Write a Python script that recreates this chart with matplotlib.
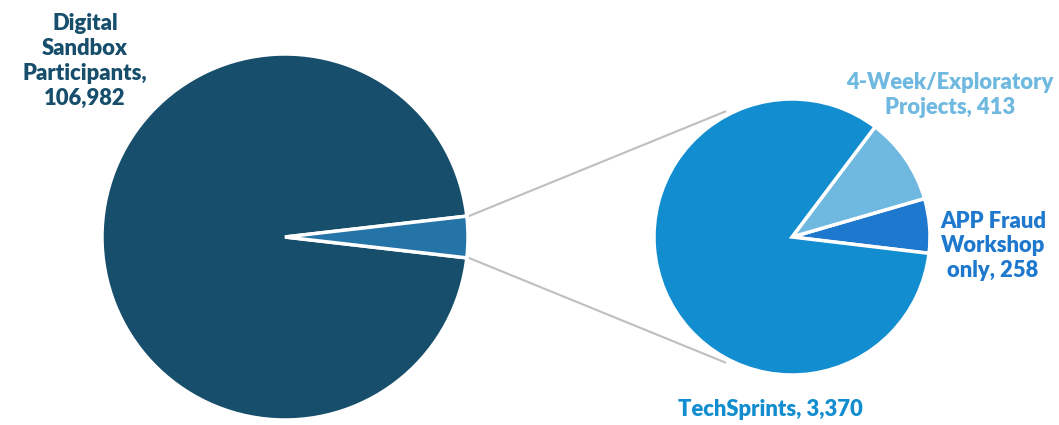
import numpy as np
from matplotlib import pyplot as plt

# main pie
main_labels = ['Digital\nSandbox\nParticipants,\n106,982', 'Other']
main_values = [106982, 3370 + 413 + 258]
main_colors = ['#174E6B', '#2474A8']

# breakdown pie (counter-clockwise from the right)
sub_labels = ['APP Fraud\nWorkshop\nonly, 258', '4-Week/Exploratory\nProjects, 413', 'TechSprints, 3,370']
sub_values = [258, 413, 3370]
sub_colors = ['#1E78CD', '#6FB8E0', '#128DCF']

W, H = 1059, 425
fig = plt.figure(figsize=(W / 100, H / 100), dpi=100)
ax = fig.add_axes([0, 0, 1, 1])

c1, r1 = (285, 188), 183
c2, r2 = (792, 188), 138

# small slice centred on the right-hand side
start1 = main_values[1] / 2 / sum(main_values) * 360
ax.pie(main_values, colors=main_colors, startangle=start1, counterclock=True,
       center=c1, radius=r1, frame=True,
       wedgeprops=dict(edgecolor='white', linewidth=2.5))

ax.pie(sub_values, colors=sub_colors, startangle=-6.8, counterclock=True,
       center=c2, radius=r2, frame=True,
       wedgeprops=dict(edgecolor='white', linewidth=2.5))
ax.set_xlim(0, W)
ax.set_ylim(0, H)
ax.set_aspect('equal')
ax.axis('off')

# connector lines
half = np.deg2rad(start1)
for sgn in (1, -1):
    x0 = c1[0] + r1 * np.cos(half)
    y0 = c1[1] + sgn * r1 * np.sin(half)
    a = np.deg2rad(118)
    x1 = c2[0] + r2 * 1.03 * np.cos(a)
    y1 = c2[1] + sgn * r2 * 1.03 * np.sin(a)
    ax.plot([x0 + 2, x1], [y0, y1], color='#BFBFBF', lw=1.5, zorder=0)

fkw = dict(fontsize=15.8, fontweight='heavy', family=['Lato', 'DejaVu Sans'],
           ha='center', va='center', linespacing=1.22)
ax.text(85, H - 61, main_labels[0], color=main_colors[0], **fkw)
ax.text(993, H - 246, sub_labels[0], color=sub_colors[0], **fkw)
ax.text(950, H - 95, sub_labels[1], color=sub_colors[1], **fkw)
ax.text(770, H - 410, sub_labels[2], color=sub_colors[2], **fkw)

fig.savefig('out.png', dpi=100)
